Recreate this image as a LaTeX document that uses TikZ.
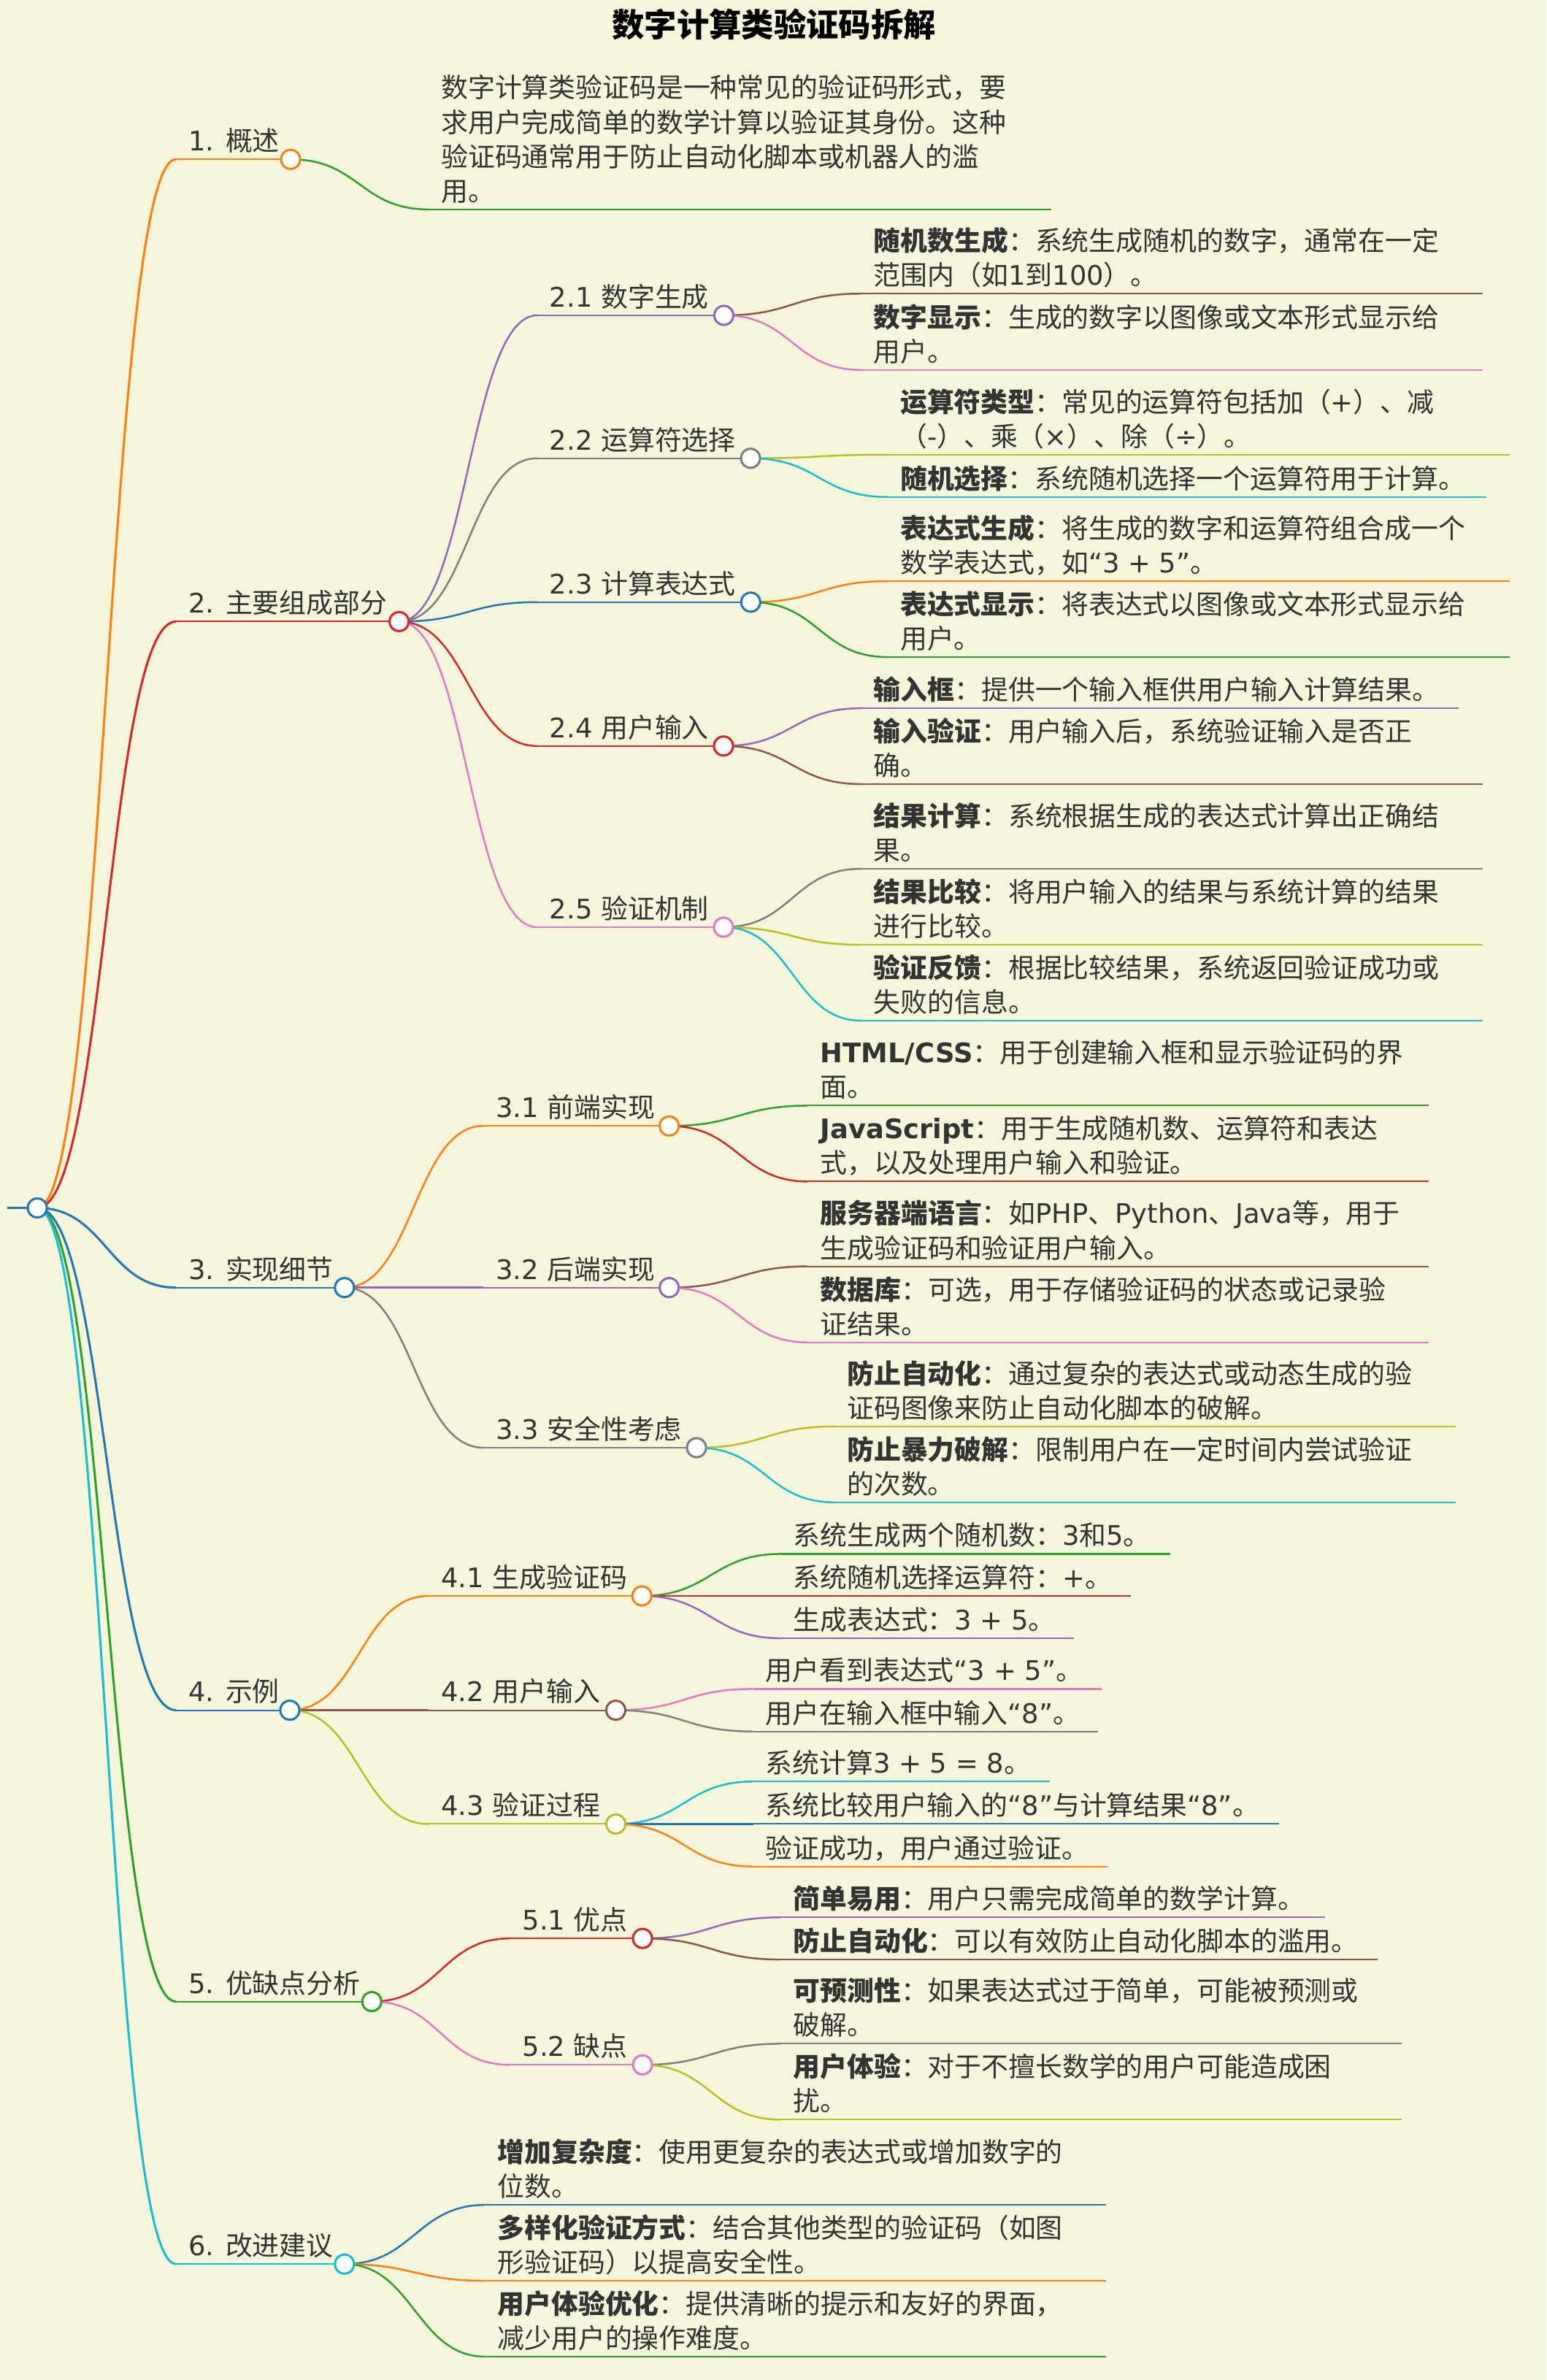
\documentclass[tikz,border=0pt]{standalone}
\usepackage{fontspec}
\setmainfont{DejaVu Sans}
\newfontfamily\cjkfont{Noto Sans CJK SC}
% CJK characters switch to the CJK family
\XeTeXinterchartokenstate=1
\newXeTeXintercharclass\CJKclass
\count255="3000
\loop\XeTeXcharclass\count255=\CJKclass\ifnum\count255<"303F\advance\count255 by 1\repeat
\count255="4E00
\loop\XeTeXcharclass\count255=\CJKclass\ifnum\count255<"9FFF\advance\count255 by 1\repeat
\count255="FF00
\loop\XeTeXcharclass\count255=\CJKclass\ifnum\count255<"FFEF\advance\count255 by 1\repeat
\XeTeXinterchartoks 0 \CJKclass={\cjkfont}
\XeTeXinterchartoks 4095 \CJKclass={\cjkfont}
\XeTeXinterchartoks \CJKclass 0={\rmfamily}
\XeTeXinterchartoks \CJKclass 4095={\rmfamily}
\newcommand\kw[1]{{\bfseries#1}\cjkfont}
\definecolor{paper}{HTML}{F5F5DC}
\definecolor{ink}{HTML}{333333}
\definecolor{mblue}{HTML}{1F77B4}
\definecolor{morange}{HTML}{FF7F0E}
\definecolor{mgreen}{HTML}{2CA02C}
\definecolor{mred}{HTML}{D62728}
\definecolor{mpurple}{HTML}{9467BD}
\definecolor{mbrown}{HTML}{8C564B}
\definecolor{mpink}{HTML}{E377C2}
\definecolor{mgray}{HTML}{7F7F7F}
\definecolor{molive}{HTML}{BCBD22}
\definecolor{mcyan}{HTML}{17BECF}

\begin{document}
\begin{tikzpicture}[
  x=0.75pt, y=-0.75pt,
  mind link/.style={line width=0.9pt},
  mind line/.style={line width=0.75pt},
  mind dot/.style={
    circle,
    draw=#1,
    fill=white,
    line width=1.1pt,
    minimum size=9.5pt,
    inner sep=0pt
  },
  mind text/.style={
    anchor=south west,
    inner sep=0pt,
    align=left,
    text=ink,
    font=\fontsize{13.3}{17}\selectfont,
    execute at begin node=\strut,
    execute at end node=\strut
  },
]
\fill[paper] (0,0) rectangle (1019,1568.4);
\useasboundingbox (0,0) rectangle (1019,1568.4);

\node[font=\bfseries\fontsize{16}{20}\selectfont] (title) at (510,16) {数字计算类验证码拆解};

% root
\coordinate (r0) at (5,796);
\coordinate (r) at (24.6,796);
\draw[mblue, line width=1.2pt] (r0) -- (r);

% first level
\foreach \nm/\co/\tx/\cx/\yy/\txt in {
  a/morange/124/191.5/105/{1. 概述},
  b/mred/124/263/409.6/{2. 主要组成部分},
  c/mblue/124/227/848.5/{3. 实现细节},
  d/mblue/124/191/1127/{4. 示例},
  e/mgreen/124/245/1319/{5. 优缺点分析},
  f/mcyan/124/227/1492/{6. 改进建议}%
}{
  \coordinate (s\nm) at (\tx-8,\yy);
  \coordinate (\nm) at (\cx,\yy);
  \draw[\co, mind link, line width=1.1pt] (r) .. controls +(45,0) and +(-45,0) .. (s\nm);
  \draw[\co, mind line] (s\nm) -- (\nm);
  \node[mind text] (l\nm) at (\tx,\yy+1.5) {\txt};
}

% second level
\foreach \nm/\pa/\co/\tx/\cx/\yy/\txt in {
  b1/b/mpurple/362/477/207.8/{2.1 数字生成},
  b2/b/mgray/362/494.6/302/{2.2 运算符选择},
  b3/b/mblue/362/494.7/396.8/{2.3 计算表达式},
  b4/b/mred/362/476.8/491.6/{2.4 用户输入},
  b5/b/mpink/362/476.8/611/{2.5 验证机制},
  c1/c/morange/326.5/441/742/{3.1 前端实现},
  c2/c/mpurple/326.5/441/848.5/{3.2 后端实现},
  c3/c/mgray/326.5/459/954/{3.3 安全性考虑},
  d1/d/morange/290.5/423/1051.7/{4.1 生成验证码},
  d2/d/mbrown/290.5/405.8/1127/{4.2 用户输入},
  d3/d/molive/290.5/405.8/1202/{4.3 验证过程},
  e1/e/mred/344/423.4/1277.4/{5.1 优点},
  e2/e/mpink/344/423.4/1360.7/{5.2 缺点}%
}{
  \coordinate (s\nm) at (\tx-8,\yy);
  \coordinate (\nm) at (\cx,\yy);
  \draw[\co, mind link] (\pa) .. controls +(45,0) and +(-45,0) .. (s\nm);
  \draw[\co, mind line] (s\nm) -- (\nm);
  \node[mind text] (l\nm) at (\tx,\yy+1.5) {\txt};
}

% leaves
\foreach \nm/\pa/\co/\tx/\ex/\yy/\txt in {
  a1/a/mgreen/290.5/693/138/{数字计算类验证码是一种常见的验证码形式，要\\求用户完成简单的数学计算以验证其身份。这种\\验证码通常用于防止自动化脚本或机器人的滥\\用。},
  b11/b1/mbrown/575.6/977/193.5/{\kw{随机数生成}：系统生成随机的数字，通常在一定\\范围内（如1到100）。},
  b12/b1/mpink/575.6/977/243.8/{\kw{数字显示}：生成的数字以图像或文本形式显示给\\用户。},
  b21/b2/molive/593/995/299.6/{\kw{运算符类型}：常见的运算符包括加（+）、减\\（-）、乘（×）、除（÷）。},
  b22/b2/mcyan/593/979.5/327.5/{\kw{随机选择}：系统随机选择一个运算符用于计算。},
  b31/b3/morange/593/995/383/{\kw{表达式生成}：将生成的数字和运算符组合成一个\\数学表达式，如“3 + 5”。},
  b32/b3/mgreen/593/995/433/{\kw{表达式显示}：将表达式以图像或文本形式显示给\\用户。},
  b41/b4/mpurple/575.6/961/466.7/{\kw{输入框}：提供一个输入框供用户输入计算结果。},
  b42/b4/mbrown/575.6/977/516.7/{\kw{输入验证}：用户输入后，系统验证输入是否正\\确。},
  b51/b5/mgray/575.6/977/572.5/{\kw{结果计算}：系统根据生成的表达式计算出正确结\\果。},
  b52/b5/molive/575.6/977/622.6/{\kw{结果比较}：将用户输入的结果与系统计算的结果\\进行比较。},
  b53/b5/mcyan/575.6/977/672.6/{\kw{验证反馈}：根据比较结果，系统返回验证成功或\\失败的信息。},
  c11/c1/mgreen/540.4/941.7/728.6/{\kw{HTML/CSS}：用于创建输入框和显示验证码的界\\面。},
  c12/c1/mred/540.4/941.7/778.6/{\kw{JavaScript}：用于生成随机数、运算符和表达\\式，以及处理用户输入和验证。},
  c21/c2/mbrown/540.4/941.7/834.5/{\kw{服务器端语言}：如PHP、Python、Java等，用于\\生成验证码和验证用户输入。},
  c22/c2/mpink/540.4/941.7/884.6/{\kw{数据库}：可选，用于存储验证码的状态或记录验\\证结果。},
  c31/c3/molive/558/959.5/940/{\kw{防止自动化}：通过复杂的表达式或动态生成的验\\证码图像来防止自动化脚本的破解。},
  c32/c3/mcyan/558/959.5/990/{\kw{防止暴力破解}：限制用户在一定时间内尝试验证\\的次数。},
  d11/d1/mgreen/522.5/771/1024/{系统生成两个随机数：3和5。},
  d12/d1/mred/522.5/745/1051.7/{系统随机选择运算符：+。},
  d13/d1/mpurple/522.5/707.7/1079.6/{生成表达式：3 + 5。},
  d21/d2/mpink/504.3/726/1113/{用户看到表达式“3 + 5”。},
  d22/d2/mgray/504.3/723.8/1141/{用户在输入框中输入“8”。},
  d31/d3/mcyan/504.3/691.6/1174/{系统计算3 + 5 = 8。},
  d32/d3/mblue/504.3/843/1202/{系统比较用户输入的“8”与计算结果“8”。},
  d33/d3/morange/504.3/729.6/1230/{验证成功，用户通过验证。},
  e11/e1/mpurple/522.5/873/1263.5/{\kw{简单易用}：用户只需完成简单的数学计算。},
  e12/e1/mbrown/522.5/908/1291.3/{\kw{防止自动化}：可以有效防止自动化脚本的滥用。},
  e21/e2/mgray/522.5/923.8/1346.8/{\kw{可预测性}：如果表达式过于简单，可能被预测或\\破解。},
  e22/e2/molive/522.5/923.8/1396.8/{\kw{用户体验}：对于不擅长数学的用户可能造成困\\扰。},
  f1/f/mblue/327.7/729/1453/{\kw{增加复杂度}：使用更复杂的表达式或增加数字的\\位数。},
  f2/f/morange/327.7/729/1503/{\kw{多样化验证方式}：结合其他类型的验证码（如图\\形验证码）以提高安全性。},
  f3/f/mgreen/327.7/729/1553/{\kw{用户体验优化}：提供清晰的提示和友好的界面，\\减少用户的操作难度。}%
}{
  \coordinate (s\nm) at (\tx-8,\yy);
  \coordinate (e\nm) at (\ex,\yy);
  \draw[\co, mind link] (\pa) .. controls +(45,0) and +(-45,0) .. (s\nm);
  \draw[\co, mind line] (s\nm) -- (e\nm);
  \node[mind text] (l\nm) at (\tx,\yy+1.5) {\txt};
}

% dots on top
\foreach \nm/\co in {r/mblue, a/morange, b/mred, c/mblue, d/mblue, e/mgreen, f/mcyan,
  b1/mpurple, b2/mgray, b3/mblue, b4/mred, b5/mpink, c1/morange, c2/mpurple, c3/mgray,
  d1/morange, d2/mbrown, d3/molive, e1/mred, e2/mpink}{
  \node[mind dot=\co] (dot\nm) at (\nm) {};
}
\end{tikzpicture}
\end{document}
